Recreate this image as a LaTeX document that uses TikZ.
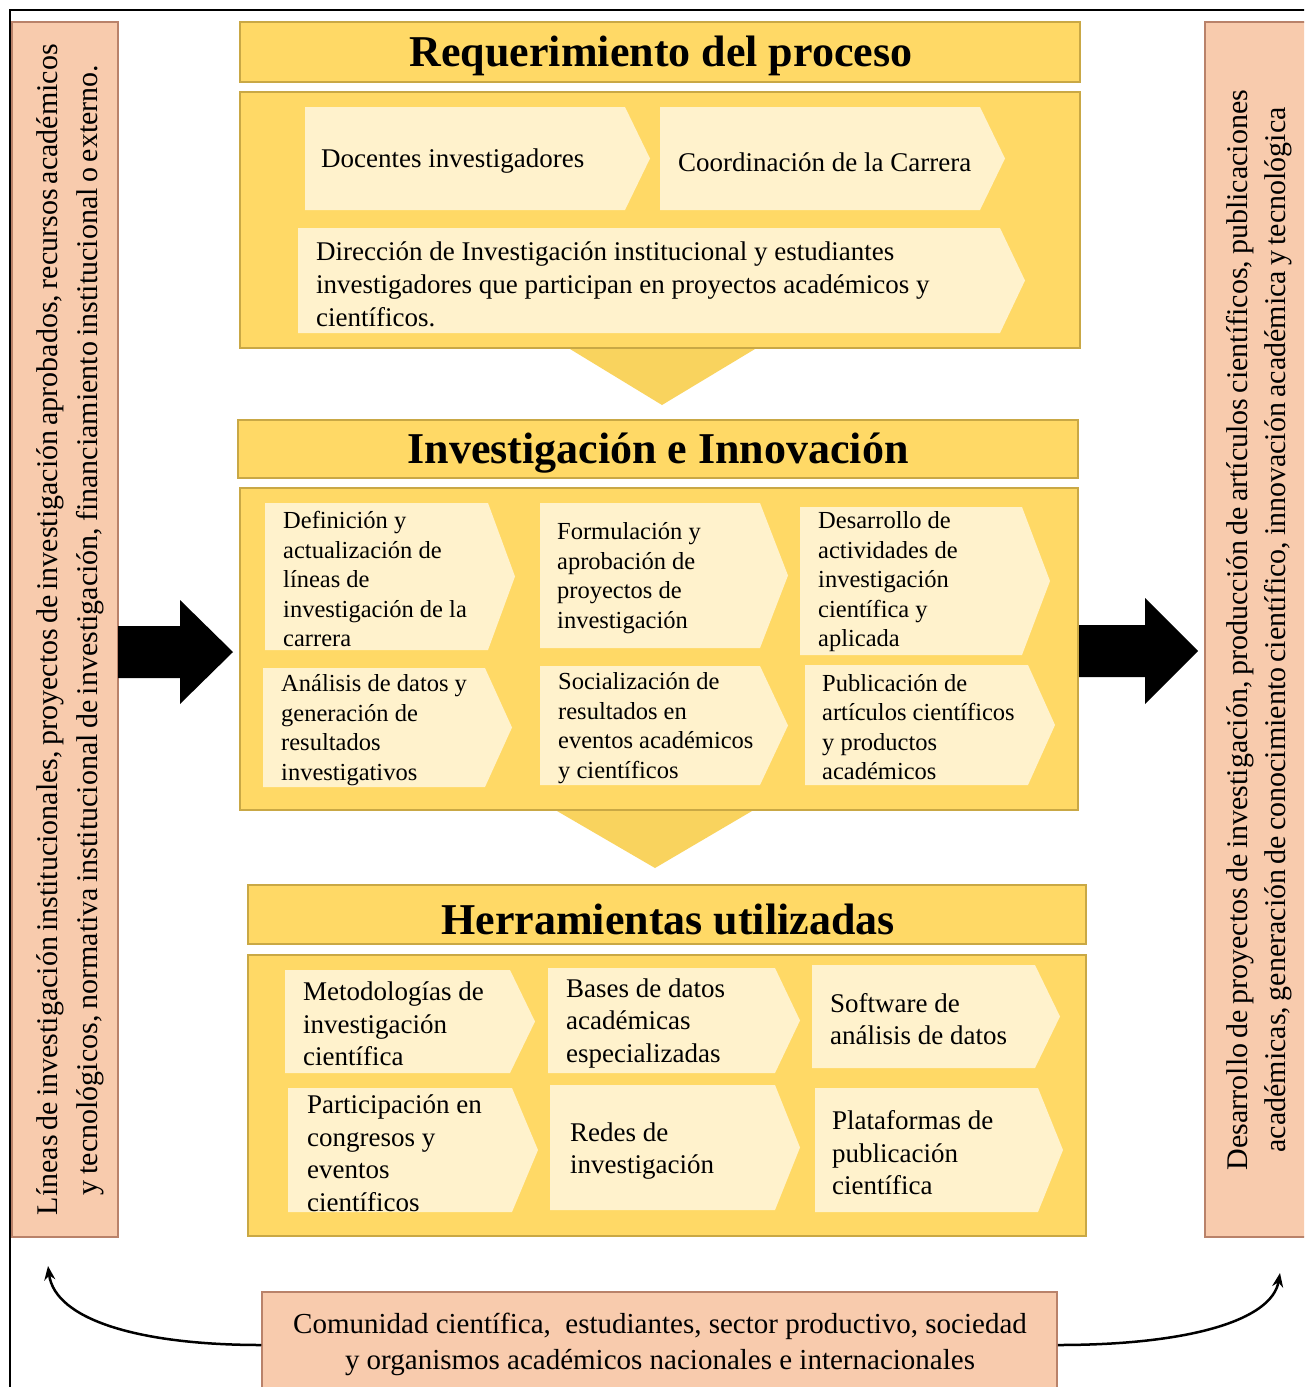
\documentclass[tikz,border=0pt]{standalone}
\usepackage{fontspec}
\setmainfont{Liberation Serif}
\usetikzlibrary{arrows.meta}
\definecolor{gold}{HTML}{FFD966}
\definecolor{goldline}{HTML}{C9A845}
\definecolor{tri}{HTML}{F9D35E}
\definecolor{cream}{HTML}{FFF2CC}
\definecolor{salmon}{HTML}{F8CBAD}
\definecolor{salmonline}{HTML}{B9826A}
\newcommand\chv[5]{\fill[cream] (#1,#2) -- (#3,#2) -- (#4,{(#2+#5)/2}) -- (#3,#5) -- (#1,#5) -- cycle;}
\tikzset{
  panel/.style={fill=gold, draw=goldline, line width=1.5pt},
  sidebox/.style={fill=salmon, draw=salmonline, line width=1.5pt},
  ttl/.style={font=\fontsize{44}{50}\selectfont\bfseries, inner sep=0pt},
  ta/.style={font=\fontsize{27}{33}\selectfont, inner sep=0pt, anchor=west, align=left},
  tb/.style={font=\fontsize{24.5}{29.5}\selectfont, inner sep=0pt, anchor=west, align=left},
  tc/.style={font=\fontsize{27}{32.5}\selectfont, inner sep=0pt, anchor=west, align=left},
  sidetext/.style={font=\fontsize{30}{40}\selectfont, inner sep=0pt, rotate=90, align=center},
  bigarrow/.style={fill=black},
  curve/.style={line width=2.5pt, -{Stealth[length=14pt,width=11pt]}}
}
\begin{document}
\begin{tikzpicture}[x=1pt,y=-1pt]
\useasboundingbox (0,0) rectangle (1304,1387);
\clip (0,0) rectangle (1304,1387);
\fill[white] (0,0) rectangle (1304,1387);
% outer frame
\draw[line width=2pt] (10,1400) -- (10,10) -- (1310,10);

% side boxes
\node[sidebox, minimum width=106pt, minimum height=1215pt] (leftbox) at (65,629.5) {};
\node[sidetext] (lefttext) at (70,630) {%
\makebox[1170pt][s]{Líneas de investigación institucionales, proyectos de investigación aprobados, recursos académicos}\\
\makebox[1130pt][s]{y tecnológicos, normativa institucional de investigación, financiamiento institucional o externo.}};
\node[sidebox, minimum width=120pt, minimum height=1215pt] (rightbox) at (1265,629.5) {};
\node[sidetext, font=\fontsize{30}{38}\selectfont] (righttext) at (1259,630) {%
\makebox[1080pt][s]{Desarrollo de proyectos de investigación, producción de artículos científicos, publicaciones}\\
\makebox[1045pt][s]{académicas, generación de conocimiento científico, innovación académica y tecnológica}};

% big arrows
\fill[bigarrow] (118,626) -- (180,626) -- (180,600) -- (233,652) -- (180,704) -- (180,678) -- (118,678) -- cycle;
\fill[bigarrow] (1079,625) -- (1145,625) -- (1145,598) -- (1198,651) -- (1145,704) -- (1145,677) -- (1079,677) -- cycle;

% ---- section 1
\node[panel, minimum width=840pt, minimum height=60pt] (bar1) at (660,52) {};
\node[ttl] (title1) at (661,56) {Requerimiento del proceso};
\node[panel, minimum width=840pt, minimum height=256pt] (panel1) at (660,220) {};
\chv{305}{107}{625}{650}{210}
\chv{660}{107}{980}{1005}{210}
\chv{298}{228}{1000}{1025}{333}
\node[ta] (docentes) at (321,161) {Docentes investigadores};
\node[ta] (coord) at (678,162) {Coordinación de la Carrera};
\node[ta] (direccion) at (316,284) {Dirección de Investigación institucional y estudiantes\\investigadores que participan en proyectos académicos y\\científicos.};
\fill[tri] (570,349) -- (755,349) -- (662,405) -- cycle;

% ---- section 2
\node[panel, minimum width=840pt, minimum height=58pt] (bar2) at (658,449) {};
\node[ttl] (title2) at (658,453) {Investigación e Innovación};
\node[panel, minimum width=838pt, minimum height=322pt] (panel2) at (659,649) {};
\chv{265}{503}{488}{515}{650}
\chv{540}{503}{760}{788}{648}
\chv{800}{507}{1022}{1050}{655}
\chv{263}{668}{485}{512}{787}
\chv{540}{666}{760}{788}{785}
\chv{805}{665}{1028}{1055}{785}
\node[tb] (c1) at (283,579) {Definición y\\actualización de\\líneas de\\investigación de la\\carrera};
\node[tb] (c2) at (557,578) {Formulación y\\aprobación de\\proyectos de\\investigación};
\node[tb] (c3) at (818,582) {Desarrollo de\\actividades de\\investigación\\científica y\\aplicada};
\node[tb] (c4) at (281,730) {Análisis de datos y\\generación de\\resultados\\investigativos};
\node[tb] (c5) at (558,728) {Socialización de\\resultados en\\eventos académicos\\y científicos};
\node[tb] (c6) at (822,727) {Publicación de\\artículos científicos\\y productos\\académicos};
\fill[tri] (557,811) -- (752,811) -- (655,868) -- cycle;

% ---- section 3
\node[panel, minimum width=838pt, minimum height=59pt] (bar3) at (667,914.5) {};
\node[ttl] (title3) at (668,919) {Herramientas utilizadas};
\node[panel, minimum width=838pt, minimum height=281pt] (panel3) at (667,1095.5) {};
\chv{285}{970}{510}{535}{1073}
\chv{548}{968}{775}{800}{1073}
\chv{812}{965}{1035}{1060}{1068}
\chv{288}{1088}{512}{538}{1212}
\chv{550}{1085}{775}{800}{1210}
\chv{815}{1088}{1038}{1063}{1212}
\node[tc] (t1) at (303,1024) {Metodologías de\\investigación\\científica};
\node[tc] (t2) at (566,1023) {Bases de datos\\académicas\\especializadas};
\node[tc] (t3) at (830,1019) {Software de\\análisis de datos};
\node[tc] (t4) at (307,1153) {Participación en\\congresos y\\eventos\\científicos};
\node[tc] (t5) at (570,1151) {Redes de\\investigación};
\node[tc] (t6) at (832,1153) {Plataformas de\\publicación\\científica};

% ---- bottom
\node[sidebox, minimum width=795pt, minimum height=106pt] (comm) at (659.5,1345) {};
\node[font=\fontsize{29}{36}\selectfont, align=center, inner sep=0pt] (commtext) at (660,1344)
  {Comunidad científica,\ \ estudiantes, sector productivo, sociedad\\y organismos académicos nacionales e internacionales};
\coordinate (lend) at (48,1266);
\coordinate (rend) at (1280,1273);
\draw[curve] (comm.west) .. controls (140,1345) and (55,1320) .. (lend);
\draw[curve] (comm.east) .. controls (1190,1345) and (1272,1320) .. (rend);
\end{tikzpicture}
\end{document}
